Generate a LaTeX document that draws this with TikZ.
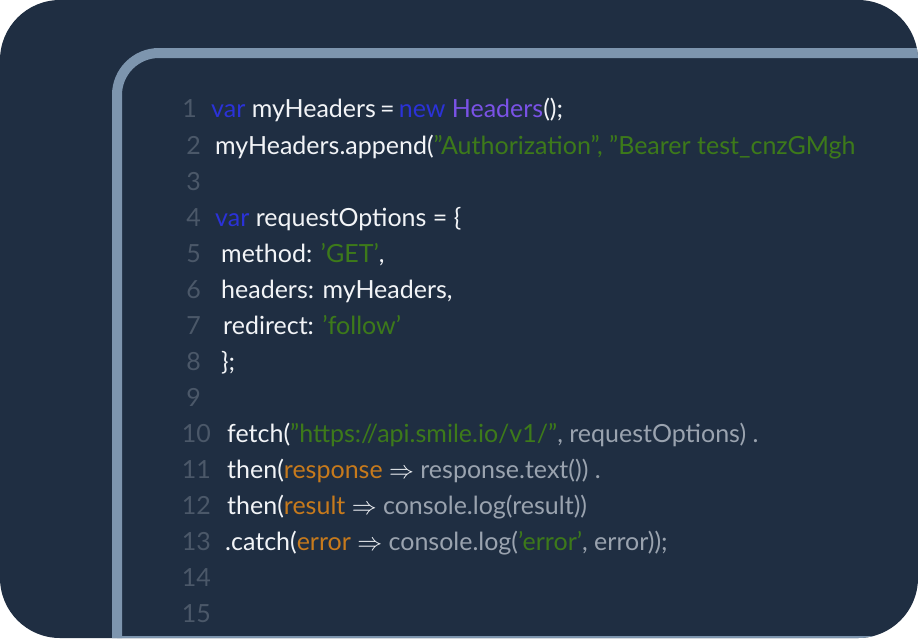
\documentclass[tikz,border=0pt]{standalone}
\usepackage{fontspec}
\setmainfont{Lato}
\definecolor{card}{HTML}{1F2E42}
\definecolor{frame}{HTML}{7D95AE}
\definecolor{num}{HTML}{4B5869}
\definecolor{kw}{HTML}{2B32D8}
\definecolor{cls}{HTML}{7A52E6}
\definecolor{str}{HTML}{3D7A1A}
\definecolor{arg}{HTML}{C77A1C}
\definecolor{code}{HTML}{F2F4F7}
\definecolor{dim}{HTML}{9AA3AF}

\begin{document}
\begin{tikzpicture}[%
x=1pt, y=-1pt,
lineno/.style={anchor=base east, text=num, inner sep=0pt, font=\fontsize{25}{25}\selectfont},
codeline/.style={anchor=base west, text=code, inner sep=0pt, font=\fontsize{25}{25}\selectfont},
]

\useasboundingbox (0,0) rectangle (918,638);
\fill[card, rounded corners=60pt] (0,0) rectangle (918,638);

\begin{scope}
\clip[rounded corners=60pt] (0,0) rectangle (918,638);
\draw[frame, line width=10pt, rounded corners=42pt] (117,690)--(117,53)--(960,53);
\draw[frame, line width=3pt] (117,637)--(918,637);
\end{scope}

% line numbers
\foreach \n/\yy/\xx in {1/117/197,2/154/201,3/190/201,4/226/201,5/262/201,6/298/201,7/334/201,8/370/201,9/406/201,10/442/211,11/478/211,12/514/211,13/550/211,14/586/211,15/622/211}
  \node[lineno] (n\n) at (\xx,\yy) {\n};

\begin{scope}
\clip[rounded corners=60pt] (0,0) rectangle (918,638);
\node[codeline] (c1) at (211,117) {\textcolor{kw}{var} myHeaders\,=\,\textcolor{kw}{new} \textcolor{cls}{Headers}();};
\node[codeline] (c2) at (215,154) {myHeaders.append(\textcolor{str}{"Authorization", "Bearer test\_cnzGMgh}};
\node[codeline] (c4) at (215,226) {\textcolor{kw}{var} requestOptions = \{};
\node[codeline] (c5) at (221,262) {method: \textcolor{str}{'GET'},};
\node[codeline] (c6) at (221,298) {headers: myHeaders,};
\node[codeline] (c7) at (223,334) {redirect: \textcolor{str}{'follow'}};
\node[codeline] (c8) at (221,370) {\};};
\node[codeline] (c10) at (227,442) {fetch(\textcolor{str}{"https://api.smile.io/v1/"}\textcolor{dim}{, requestOptions) .}};
\node[codeline] (c11) at (227,478) {then(\textcolor{arg}{response} $\Rightarrow$ \textcolor{dim}{response.text()) .}};
\node[codeline] (c12) at (227,514) {then(\textcolor{arg}{result} $\Rightarrow$ \textcolor{dim}{console.log(result))}};
\node[codeline] (c13) at (225,550) {.catch(\textcolor{arg}{error} $\Rightarrow$ \textcolor{dim}{console.log(\textcolor{str}{'error'}, error));}};
\end{scope}

\end{tikzpicture}
\end{document}
